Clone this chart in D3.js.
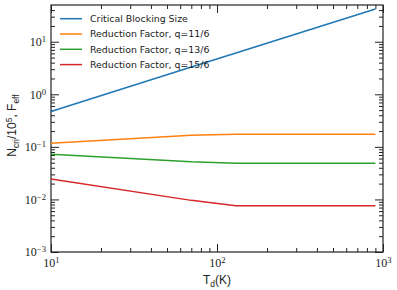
<!DOCTYPE html>
<html>
<head>
<meta charset="utf-8">
<script src="https://cdn.jsdelivr.net/npm/d3@7"></script>
<style>
  body { margin: 0; background: #fff; }
  svg { display: block; }
</style>
</head>
<body>
<div id="chart"></div>
<script>
// temperatures (K) sampled by the curves
const temps = [10, 70, 130, 900];
// critical blocking size N_cri / 1e5
const blocking = [0.47, 3.3, 6.1, 42];
// reduction factors F_eff
const q11 = [0.117, 0.167, 0.173, 0.173];
const q13 = [0.072, 0.052, 0.049, 0.049];
const q15 = [0.0244, 0.0096, 0.0076, 0.0076];
const seriesNames = ['Critical Blocking Size', 'Reduction Factor, q=11/6',
  'Reduction Factor, q=13/6', 'Reduction Factor, q=15/6'];
const xTicks = [10, 100, 1000];
const yTicks = [10, 1, 0.1, 0.01, 0.001];

const W = 397, H = 290;
const margin = { top: 5, right: 14, bottom: 38, left: 51 };
const colors = ['#1f77b4', '#ff7f0e', '#2ca02c', '#d62728'];

const svg = d3.select('#chart').append('svg').attr('width', W).attr('height', H);
const iw = W - margin.left - margin.right, ih = H - margin.top - margin.bottom;
const g = svg.append('g').attr('transform', `translate(${margin.left},${margin.top})`);

const x = d3.scaleLog().domain([10, 1000]).range([0, iw]);
const y = d3.scaleLog().domain([0.001, 50]).range([ih, 0]);

// minor tick positions, 2..9 in each decade
function minors(lo, hi) {
  let out = [];
  for (let e = Math.floor(Math.log10(lo)); e < Math.ceil(Math.log10(hi)); e++)
    for (let k = 2; k < 10; k++) {
      let v = k * Math.pow(10, e);
      if (v > lo && v < hi) out.push(v);
    }
  return out;
}

// label helper: 10^n with superscript
function powLabel(sel) {
  sel.each(function(d) {
    let t = d3.select(this), e = Math.round(Math.log10(d));
    t.text('10');
    t.append('tspan').attr('dy', '-0.45em').attr('font-size', '0.72em')
      .text(e < 0 ? '\u2212' + (-e) : e);
  });
}

function styleAxis(a) {
  a.select('.domain').remove();
  a.selectAll('line').attr('stroke', '#222').attr('stroke-width', 1);
  a.selectAll('text').attr('font-family', 'Liberation Serif, DejaVu Serif, serif')
    .attr('font-size', 12).attr('fill', '#222');
}

// bottom & top
let ax = g.append('g').attr('transform', `translate(0,${ih})`)
  .call(d3.axisBottom(x).tickValues(xTicks).tickSizeInner(-8).tickSizeOuter(0).tickPadding(6));
styleAxis(ax);
ax.selectAll('.tick text').call(powLabel);
g.append('g').attr('transform', `translate(0,${ih})`)
  .call(d3.axisBottom(x).tickValues(minors(10, 1000)).tickSizeInner(-4).tickSizeOuter(0).tickFormat(''))
  .call(styleAxis);
g.append('g').call(d3.axisTop(x).tickValues(xTicks).tickSizeInner(-8).tickSizeOuter(0).tickFormat(''))
  .call(styleAxis);
g.append('g').call(d3.axisTop(x).tickValues(minors(10, 1000)).tickSizeInner(-4).tickSizeOuter(0).tickFormat(''))
  .call(styleAxis);

// left & right
let ay = g.append('g')
  .call(d3.axisLeft(y).tickValues(yTicks).tickSizeInner(-8).tickSizeOuter(0).tickPadding(5));
styleAxis(ay);
ay.selectAll('.tick text').call(powLabel);
g.append('g').call(d3.axisLeft(y).tickValues(minors(0.001, 50)).tickSizeInner(-4).tickSizeOuter(0).tickFormat(''))
  .call(styleAxis);
g.append('g').attr('transform', `translate(${iw},0)`)
  .call(d3.axisRight(y).tickValues(yTicks).tickSizeInner(-8).tickSizeOuter(0).tickFormat(''))
  .call(styleAxis);
g.append('g').attr('transform', `translate(${iw},0)`)
  .call(d3.axisRight(y).tickValues(minors(0.001, 50)).tickSizeInner(-4).tickSizeOuter(0).tickFormat(''))
  .call(styleAxis);

// frame
g.append('rect').attr('width', iw).attr('height', ih)
  .attr('fill', 'none').attr('stroke', '#222').attr('stroke-width', 1.2);

// curves
const series = [blocking, q11, q13, q15];
const line = d3.line().x((d, i) => x(temps[i])).y(d => y(d));
g.selectAll('.curve').data(series).enter().append('path')
  .attr('class', 'curve')
  .attr('d', d => line(d))
  .attr('fill', 'none')
  .attr('stroke', (d, i) => colors[i])
  .attr('stroke-width', 1.5);

// legend
const lg = g.append('g').attr('transform', 'translate(9,13.7)');
seriesNames.forEach((name, i) => {
  let row = lg.append('g').attr('transform', `translate(0,${i * 15.3})`);
  row.append('line').attr('x1', 0).attr('x2', 22).attr('stroke', colors[i]).attr('stroke-width', 1.5);
  row.append('text').attr('x', 30).attr('y', 3.4)
    .attr('font-family', 'DejaVu Sans, sans-serif').attr('font-size', 9.4)
    .attr('fill', '#222').text(name);
});

// axis labels
const xl = svg.append('text').attr('x', margin.left + iw / 2).attr('y', 284)
  .attr('text-anchor', 'middle').attr('font-family', 'Liberation Sans, Arial, sans-serif')
  .attr('font-size', 12).attr('fill', '#222');
xl.append('tspan').text('T');
xl.append('tspan').attr('font-size', 8.5).attr('dy', 2.5).text('d');
xl.append('tspan').attr('dy', -2.5).text('(K)');

const yl = svg.append('text').attr('transform', `translate(16,${margin.top + ih / 2 - 3}) rotate(-90)`)
  .attr('text-anchor', 'middle').attr('font-family', 'Liberation Sans, Arial, sans-serif')
  .attr('font-size', 12).attr('fill', '#222');
yl.append('tspan').text('N');
yl.append('tspan').attr('font-size', 8.5).attr('dy', 2.5).text('cri');
yl.append('tspan').attr('dy', -2.5).text('/10');
yl.append('tspan').attr('font-size', 8.5).attr('dy', -4.5).text('5');
yl.append('tspan').attr('dy', 4.5).text(', F');
yl.append('tspan').attr('font-size', 8.5).attr('dy', 2.5).text('eff');
</script>
</body>
</html>
